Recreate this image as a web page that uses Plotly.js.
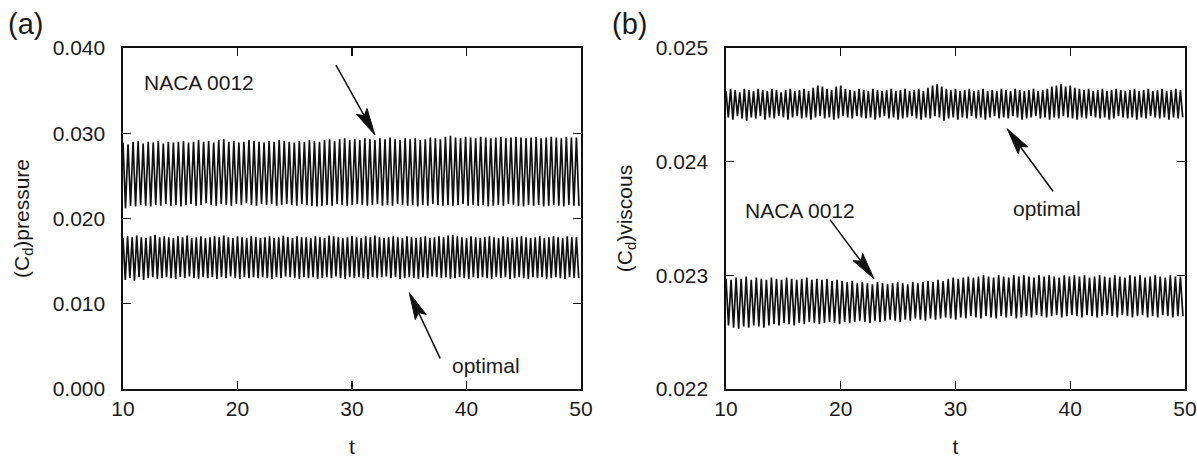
<!DOCTYPE html>
<html>
<head>
<meta charset="utf-8">
<script src="https://cdn.plot.ly/plotly-3.0.1.min.js"></script>
<style>html,body{margin:0;padding:0;background:#fff;}#chart{width:1197px;height:461px;}</style>
</head>
<body>
<div id="chart"></div>
<script>
// time range and oscillation periods (time units)
const tStart = 10;
const periodNaca = 0.44;
const periodOptimal = 0.40;

// (a) pressure drag, NACA 0012 : per-cycle peak and trough values
const nacaPressurePeaks = [
0.0289,0.0287,0.0290,0.0291,0.0288,0.0290,0.0289,0.0291,0.0288,0.0290,
0.0289,0.0290,0.0291,0.0289,0.0290,0.0292,0.0290,0.0291,0.0289,0.0292,
0.0293,0.0290,0.0291,0.0289,0.0290,0.0292,0.0291,0.0290,0.0289,0.0291,
0.0290,0.0292,0.0291,0.0290,0.0289,0.0291,0.0290,0.0292,0.0291,0.0290,
0.0292,0.0293,0.0291,0.0293,0.0294,0.0292,0.0293,0.0292,0.0294,0.0293,
0.0292,0.0294,0.0293,0.0295,0.0293,0.0292,0.0294,0.0293,0.0294,0.0292,
0.0293,0.0295,0.0294,0.0293,0.0296,0.0297,0.0295,0.0294,0.0296,0.0295,
0.0294,0.0296,0.0295,0.0294,0.0295,0.0296,0.0294,0.0295,0.0296,0.0295,
0.0294,0.0295,0.0296,0.0294,0.0295,0.0296,0.0295,0.0294,0.0296,0.0295,
0.0295];
const nacaPressureTroughs = [
0.0212,0.0215,0.0214,0.0216,0.0215,0.0214,0.0216,0.0215,0.0217,0.0215,
0.0216,0.0214,0.0216,0.0217,0.0215,0.0216,0.0218,0.0216,0.0215,0.0217,
0.0216,0.0215,0.0217,0.0216,0.0218,0.0216,0.0215,0.0217,0.0216,0.0217,
0.0215,0.0216,0.0217,0.0216,0.0215,0.0217,0.0216,0.0215,0.0214,0.0215,
0.0216,0.0215,0.0217,0.0216,0.0215,0.0216,0.0217,0.0216,0.0215,0.0216,
0.0217,0.0215,0.0216,0.0215,0.0217,0.0216,0.0215,0.0216,0.0214,0.0216,
0.0215,0.0217,0.0216,0.0215,0.0216,0.0215,0.0216,0.0217,0.0215,0.0216,
0.0215,0.0216,0.0214,0.0215,0.0216,0.0215,0.0217,0.0216,0.0215,0.0214,
0.0216,0.0215,0.0216,0.0214,0.0215,0.0216,0.0215,0.0214,0.0216,0.0215,
0.0215];

// (a) pressure drag, optimal airfoil
const optPressurePeaks = [
0.0177,0.0179,0.0178,0.0180,0.0178,0.0177,0.0179,0.0181,0.0178,0.0179,
0.0178,0.0177,0.0179,0.0178,0.0180,0.0177,0.0178,0.0179,0.0177,0.0178,
0.0179,0.0178,0.0180,0.0178,0.0177,0.0179,0.0178,0.0177,0.0179,0.0178,
0.0177,0.0178,0.0179,0.0177,0.0178,0.0180,0.0178,0.0177,0.0179,0.0178,
0.0178,0.0177,0.0179,0.0178,0.0177,0.0180,0.0179,0.0178,0.0177,0.0178,
0.0179,0.0178,0.0177,0.0179,0.0178,0.0180,0.0178,0.0177,0.0178,0.0179,
0.0178,0.0177,0.0179,0.0178,0.0177,0.0178,0.0179,0.0177,0.0178,0.0179,
0.0178,0.0180,0.0181,0.0179,0.0178,0.0177,0.0179,0.0178,0.0177,0.0178,
0.0179,0.0178,0.0177,0.0179,0.0178,0.0177,0.0178,0.0179,0.0178,0.0177,
0.0178,0.0179,0.0177,0.0178,0.0179,0.0178,0.0177,0.0179,0.0178,0.0178];
const optPressureTroughs = [
0.0128,0.0130,0.0127,0.0131,0.0128,0.0130,0.0131,0.0129,0.0130,0.0131,
0.0130,0.0129,0.0131,0.0130,0.0132,0.0130,0.0129,0.0131,0.0130,0.0131,
0.0129,0.0131,0.0130,0.0132,0.0130,0.0129,0.0131,0.0130,0.0131,0.0130,
0.0131,0.0130,0.0129,0.0131,0.0130,0.0132,0.0131,0.0130,0.0129,0.0131,
0.0130,0.0131,0.0129,0.0130,0.0131,0.0130,0.0132,0.0130,0.0129,0.0131,
0.0130,0.0131,0.0130,0.0129,0.0131,0.0130,0.0131,0.0132,0.0130,0.0131,
0.0129,0.0130,0.0131,0.0130,0.0129,0.0131,0.0130,0.0132,0.0131,0.0130,
0.0131,0.0129,0.0130,0.0131,0.0130,0.0129,0.0131,0.0130,0.0131,0.0130,
0.0129,0.0131,0.0130,0.0131,0.0129,0.0130,0.0131,0.0130,0.0129,0.0131,
0.0130,0.0131,0.0129,0.0130,0.0131,0.0130,0.0129,0.0131,0.0130,0.0130];

// (b) viscous drag, optimal airfoil
const optViscousPeaks = [
0.02462,0.02464,0.02463,0.02461,0.02464,0.02463,0.02462,0.02464,0.02463,0.02462,
0.02464,0.02463,0.02461,0.02463,0.02464,0.02462,0.02463,0.02464,0.02462,0.02465,
0.02467,0.02466,0.02464,0.02463,0.02466,0.02467,0.02464,0.02463,0.02462,0.02464,
0.02463,0.02462,0.02464,0.02463,0.02462,0.02463,0.02464,0.02462,0.02463,0.02464,
0.02462,0.02463,0.02464,0.02462,0.02465,0.02467,0.02468,0.02466,0.02464,0.02463,
0.02464,0.02462,0.02463,0.02464,0.02462,0.02463,0.02464,0.02462,0.02463,0.02462,
0.02464,0.02463,0.02462,0.02464,0.02463,0.02462,0.02463,0.02464,0.02462,0.02463,
0.02464,0.02466,0.02467,0.02468,0.02466,0.02467,0.02465,0.02464,0.02463,0.02464,
0.02462,0.02463,0.02464,0.02462,0.02463,0.02464,0.02463,0.02462,0.02463,0.02464,
0.02462,0.02463,0.02464,0.02462,0.02463,0.02464,0.02462,0.02463,0.02464,0.02463];
const optViscousTroughs = [
0.02439,0.02437,0.02440,0.02438,0.02436,0.02439,0.02438,0.02440,0.02437,0.02439,
0.02438,0.02440,0.02439,0.02437,0.02439,0.02440,0.02438,0.02439,0.02437,0.02439,
0.02440,0.02438,0.02439,0.02437,0.02438,0.02440,0.02439,0.02438,0.02440,0.02439,
0.02438,0.02439,0.02437,0.02439,0.02440,0.02438,0.02439,0.02437,0.02438,0.02439,
0.02440,0.02438,0.02437,0.02439,0.02438,0.02440,0.02439,0.02436,0.02438,0.02439,
0.02437,0.02439,0.02438,0.02440,0.02438,0.02439,0.02437,0.02439,0.02440,0.02438,
0.02439,0.02438,0.02440,0.02439,0.02437,0.02438,0.02439,0.02440,0.02438,0.02439,
0.02437,0.02439,0.02438,0.02440,0.02439,0.02438,0.02437,0.02439,0.02438,0.02440,
0.02439,0.02438,0.02439,0.02437,0.02438,0.02440,0.02439,0.02438,0.02439,0.02437,
0.02439,0.02438,0.02440,0.02439,0.02438,0.02439,0.02437,0.02439,0.02438,0.02439];

// (b) viscous drag, NACA 0012
const nacaViscousPeaks = [
0.02297,0.02296,0.02298,0.02297,0.02299,0.02296,0.02298,0.02297,0.02296,0.02298,
0.02297,0.02296,0.02298,0.02297,0.02296,0.02297,0.02298,0.02296,0.02297,0.02296,
0.02297,0.02295,0.02296,0.02295,0.02294,0.02295,0.02293,0.02294,0.02293,0.02292,
0.02294,0.02293,0.02292,0.02293,0.02294,0.02293,0.02292,0.02294,0.02293,0.02294,
0.02295,0.02294,0.02296,0.02295,0.02297,0.02298,0.02297,0.02298,0.02299,0.02298,
0.02299,0.02300,0.02299,0.02298,0.02300,0.02299,0.02298,0.02300,0.02299,0.02300,
0.02299,0.02298,0.02300,0.02299,0.02300,0.02299,0.02298,0.02300,0.02299,0.02300,
0.02299,0.02300,0.02298,0.02299,0.02300,0.02299,0.02298,0.02300,0.02299,0.02298,
0.02300,0.02299,0.02300,0.02298,0.02299,0.02300,0.02299,0.02298,0.02300,0.02299,
0.02299];
const nacaViscousTroughs = [
0.02256,0.02254,0.02253,0.02255,0.02254,0.02256,0.02255,0.02254,0.02256,0.02257,
0.02256,0.02258,0.02257,0.02256,0.02258,0.02257,0.02259,0.02258,0.02257,0.02258,
0.02259,0.02258,0.02257,0.02259,0.02258,0.02259,0.02260,0.02259,0.02258,0.02260,
0.02259,0.02260,0.02261,0.02260,0.02259,0.02261,0.02260,0.02262,0.02261,0.02260,
0.02262,0.02261,0.02262,0.02263,0.02262,0.02261,0.02263,0.02262,0.02264,0.02263,
0.02262,0.02264,0.02263,0.02262,0.02264,0.02263,0.02264,0.02262,0.02263,0.02264,
0.02263,0.02265,0.02264,0.02263,0.02264,0.02265,0.02263,0.02264,0.02265,0.02264,
0.02263,0.02265,0.02264,0.02263,0.02264,0.02265,0.02264,0.02263,0.02265,0.02264,
0.02263,0.02264,0.02265,0.02263,0.02264,0.02263,0.02265,0.02264,0.02263,0.02264,
0.02264];

// tick labels
const xTicks = [10, 20, 30, 40, 50];
const yTicksPressure = [0.000, 0.010, 0.020, 0.030, 0.040];
const yTicksViscous = [0.022, 0.023, 0.024, 0.025];

function zigzag(peaks, troughs, period) {
  const x = [], y = [];
  const n = Math.min(peaks.length, troughs.length);
  for (let i = 0; i < n; i++) {
    x.push(tStart + i * period); y.push(peaks[i]);
    x.push(tStart + (i + 0.5) * period); y.push(troughs[i]);
  }
  return {x, y};
}

const lineStyle = {color: '#111', width: 1.7};
function trace(p, t, period, xa, ya, name) {
  const z = zigzag(p, t, period);
  return {x: z.x, y: z.y, xaxis: xa, yaxis: ya, type: 'scatter', mode: 'lines',
          line: lineStyle, name: name, showlegend: false, hoverinfo: 'skip'};
}

const data = [
  trace(nacaPressurePeaks, nacaPressureTroughs, periodNaca, 'x', 'y', 'NACA 0012'),
  trace(optPressurePeaks, optPressureTroughs, periodOptimal, 'x', 'y', 'optimal'),
  trace(optViscousPeaks, optViscousTroughs, periodOptimal, 'x2', 'y2', 'optimal'),
  trace(nacaViscousPeaks, nacaViscousTroughs, periodNaca, 'x2', 'y2', 'NACA 0012')
];

const FONT = 'Liberation Sans, Arial, Helvetica, sans-serif';
const TXT = '#1a1a1a';
const FS = 21;
const W = 1197, H = 461;
const plotTop = 48, plotBottom = 389;
const xPixA = [123, 581], xPixB = [726, 1185];
const rangeX = [10, 50], rangeA = [0, 0.040], rangeB = [0.022, 0.025];

function xAxis(pix, anchor) {
  return {domain: [pix[0] / W, pix[1] / W], anchor: anchor, range: rangeX, tickvals: xTicks,
    ticktext: xTicks.map(String), ticks: 'inside', ticklen: 8, tickwidth: 1.3,
    tickcolor: '#111', showline: true, linecolor: '#111', linewidth: 1.6,
    mirror: 'ticks', showgrid: false, zeroline: false, ticklabelstandoff: 0,
    tickfont: {family: FONT, size: FS, color: TXT},
    title: {text: 't', font: {family: FONT, size: FS, color: TXT}, standoff: 20}};
}
function yAxis(anchor, range, ticks, title) {
  return {domain: [1 - plotBottom / H, 1 - plotTop / H], anchor: anchor, range: range, tickvals: ticks,
    ticktext: ticks.map(v => v.toFixed(3)), ticks: 'inside', ticklen: 8, tickwidth: 1.3,
    tickcolor: '#111', showline: true, linecolor: '#111', linewidth: 1.6,
    mirror: 'ticks', showgrid: false, zeroline: false, ticklabelstandoff: 12,
    tickfont: {family: FONT, size: FS, color: TXT},
    title: {text: title, font: {family: FONT, size: FS, color: TXT}, standoff: 17}};
}

// arrows drawn as shapes (shaft line + filled head), given tail/head in data units
function arrowShapes(xref, yref, xPix, yRange, tail, head) {
  const toPx = p => [xPix[0] + (p[0] - rangeX[0]) / (rangeX[1] - rangeX[0]) * (xPix[1] - xPix[0]),
                     plotBottom - (p[1] - yRange[0]) / (yRange[1] - yRange[0]) * (plotBottom - plotTop)];
  const toData = q => [rangeX[0] + (q[0] - xPix[0]) / (xPix[1] - xPix[0]) * (rangeX[1] - rangeX[0]),
                       yRange[0] + (plotBottom - q[1]) / (plotBottom - plotTop) * (yRange[1] - yRange[0])];
  const a = toPx(tail), b = toPx(head);
  const dx = b[0] - a[0], dy = b[1] - a[1], L = Math.hypot(dx, dy);
  const ux = dx / L, uy = dy / L, nx = -uy, ny = ux;
  const headLen = 27, halfW = 6;
  const base = [b[0] - ux * headLen, b[1] - uy * headLen];
  const notch = [b[0] - ux * (headLen - 5), b[1] - uy * (headLen - 5)];
  const p1 = toData([base[0] + nx * halfW, base[1] + ny * halfW]);
  const p2 = toData([base[0] - nx * halfW, base[1] - ny * halfW]);
  const pn = toData(notch);
  const s = toData(a);
  return [
    {type: 'line', xref: xref, yref: yref, x0: s[0], y0: s[1], x1: pn[0], y1: pn[1],
     line: {color: '#111', width: 1.5}},
    {type: 'path', xref: xref, yref: yref,
     path: `M ${head[0]} ${head[1]} L ${p1[0]} ${p1[1]} L ${pn[0]} ${pn[1]} L ${p2[0]} ${p2[1]} Z`,
     fillcolor: '#111', line: {color: '#111', width: 1}}
  ];
}

const shapes = [].concat(
  arrowShapes('x', 'y', xPixA, rangeA, [28.6, 0.0380], [32.0, 0.0298]),
  arrowShapes('x', 'y', xPixA, rangeA, [37.7, 0.0036], [35.0, 0.0113]),
  arrowShapes('x2', 'y2', xPixB, rangeB, [38.5, 0.02374], [34.5, 0.02429]),
  arrowShapes('x2', 'y2', xPixB, rangeB, [19.06, 0.02349], [22.9, 0.02297])
);

const layout = {
  width: W, height: H,
  margin: {l: 0, r: 0, t: 0, b: 0},
  paper_bgcolor: '#fff', plot_bgcolor: '#fff',
  showlegend: false,
  font: {family: FONT, size: FS, color: TXT},
  xaxis: xAxis(xPixA, 'y'),
  yaxis: yAxis('x', rangeA, yTicksPressure, '(C<sub>d</sub>)pressure'),
  xaxis2: xAxis(xPixB, 'y2'),
  yaxis2: yAxis('x2', rangeB, yTicksViscous, '(C<sub>d</sub>)viscous'),
  shapes: shapes,
  annotations: [
    {xref: 'paper', yref: 'paper', x: 6 / W, y: 1 - 6 / H, xanchor: 'left', yanchor: 'top',
     text: '(a)', showarrow: false, font: {family: FONT, size: 29, color: TXT}},
    {xref: 'paper', yref: 'paper', x: 610 / W, y: 1 - 6 / H, xanchor: 'left', yanchor: 'top',
     text: '(b)', showarrow: false, font: {family: FONT, size: 29, color: TXT}},
    {xref: 'x', yref: 'y', x: 16.6, y: 0.0360, text: 'NACA 0012', showarrow: false,
     font: {family: FONT, size: FS, color: TXT}},
    {xref: 'x', yref: 'y', x: 41.7, y: 0.0028, text: 'optimal', showarrow: false,
     font: {family: FONT, size: FS, color: TXT}},
    {xref: 'x2', yref: 'y2', x: 38.0, y: 0.02359, text: 'optimal', showarrow: false,
     font: {family: FONT, size: FS, color: TXT}},
    {xref: 'x2', yref: 'y2', x: 16.45, y: 0.02357, text: 'NACA 0012', showarrow: false,
     font: {family: FONT, size: FS, color: TXT}}
  ]
};

Plotly.newPlot('chart', data, layout, {staticPlot: true, displayModeBar: false});
</script>
</body>
</html>
